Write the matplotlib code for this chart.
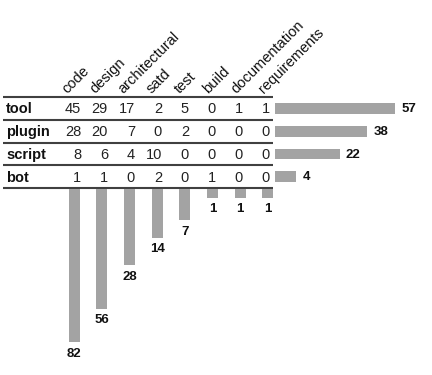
import numpy as np
import matplotlib
matplotlib.use("Agg")
import matplotlib.pyplot as plt

plt.rcParams['font.family'] = ['Liberation Sans', 'DejaVu Sans']

# ---- data ----
categories = ["code", "design", "architectural", "satd", "test", "build",
              "documentation", "requirements"]
row_labels = ["tool", "plugin", "script", "bot"]
tool = [45, 29, 17, 2, 5, 0, 1, 1]
plugin = [28, 20, 7, 0, 2, 0, 0, 0]
script = [8, 6, 4, 10, 0, 0, 0, 0]
bot = [1, 1, 0, 2, 0, 1, 0, 0]
row_totals = [57, 38, 22, 4]
col_totals = [82, 56, 28, 14, 7, 1, 1, 1]

matrix = [tool, plugin, script, bot]

# ---- layout (pixels) ----
W, H = 432, 375
fig = plt.figure(figsize=(W / 100, H / 100), dpi=100)

ax = fig.add_axes([0, 0, 1, 1])
ax.set_xlim(0, W)
ax.set_ylim(H, 0)
ax.axis("off")

top = 97.0
row_h = 22.8
line_x0, line_x1 = 3, 273
num_right0, num_step = 81.0, 27.0
lab_x0, lab_step = 67.5, 28.07
col_c0, col_step = 74.3, 27.66
bar_color = "#a3a3a3"
line_color = "#404040"
FS = 10.5
p = 0.65

# horizontal rules
for k in range(len(row_labels) + 1):
    y = top + k * row_h
    ax.plot([line_x0, line_x1], [y, y], color=line_color, lw=1.5,
            solid_capstyle="butt", zorder=3)

# row labels and cell values
for r, name in enumerate(row_labels):
    yc = top + (r + 0.5) * row_h + 1
    ax.text(6, yc, name, fontsize=FS, fontweight="bold", ha="left",
            va="center", color="#111111")
    for c, v in enumerate(matrix[r]):
        ax.text(num_right0 + c * num_step, yc, str(v), fontsize=FS,
                ha="right", va="center", color="#222222")

# column labels
for c, name in enumerate(categories):
    ax.text(lab_x0 + c * lab_step, top - 3, name, fontsize=FS, rotation=45,
            rotation_mode="anchor", ha="left", va="baseline",
            color="#111111")

fwd = lambda v: np.sign(v) * np.abs(v) ** p
inv = lambda v: np.sign(v) * np.abs(v) ** (1 / p)

# horizontal bars (row totals)
hx0, hx1 = 275, 395
axh = fig.add_axes([hx0 / W, 1 - (top + 4 * row_h) / H,
                    (hx1 - hx0) / W, 4 * row_h / H])
axh.set_xscale("function", functions=(fwd, inv))
axh.barh(range(len(row_totals)), row_totals, height=0.48, color=bar_color)
axh.set_xlim(0, max(row_totals))
axh.set_ylim(len(row_totals) - 0.5, -0.5)
axh.axis("off")
for i, v in enumerate(row_totals):
    axh.annotate(str(v), (v, i), xytext=(4.5, -0.5), textcoords="offset points",
                 ha="left", va="center", fontsize=9.5, fontweight="bold",
                 annotation_clip=False, color="#111111")

# vertical bars (column totals)
vy0 = top + 4 * row_h + 1
vy1 = vy0 + 153
vx0 = col_c0 - col_step / 2
axv = fig.add_axes([vx0 / W, 1 - vy1 / H, len(categories) * col_step / W,
                    (vy1 - vy0) / H])
axv.set_yscale("function", functions=(fwd, inv))
axv.bar(range(len(col_totals)), col_totals, width=0.4, color=bar_color)
axv.set_xlim(-0.5, len(categories) - 0.5)
axv.set_ylim(max(col_totals), 0)
axv.axis("off")
for i, v in enumerate(col_totals):
    axv.annotate(str(v), (i, v), xytext=(0, -4), textcoords="offset points",
                 ha="center", va="top", fontsize=9.5, fontweight="bold",
                 annotation_clip=False, color="#111111")

fig.savefig("out.png", dpi=100)
